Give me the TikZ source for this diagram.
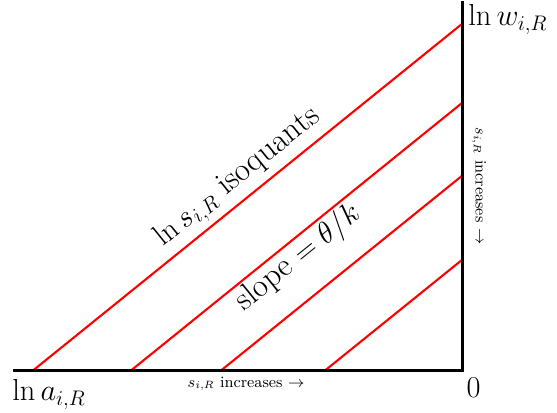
\documentclass[tikz,border=0pt]{standalone}
\definecolor{isored}{RGB}{255,0,0}
\tikzset{
  axis/.style={draw=black, line width=1.3pt},
  isoquant/.style={draw=isored, line width=1.2pt},
  biglabel/.style={font=\fontsize{18.5}{22}\selectfont, inner sep=0pt},
  hintlabel/.style={font=\small, inner sep=0pt},
  sidehint/.style={font=\small, inner sep=0pt, rotate=-90}
}

\begin{document}
\begin{tikzpicture}[x=0.02cm, y=0.02cm]
  \useasboundingbox (0,0) rectangle (557,412);

  % axes
  \coordinate (origin) at (462.5,41.5);
  \coordinate (xleft) at (12.5,41.5);
  \coordinate (ytop) at (462.5,411);

  % isoquant end points, slope theta/k
  \coordinate (isoAs) at (33,41.5);   \coordinate (isoAe) at (462.5,388.5);
  \coordinate (isoBs) at (131,41.5);  \coordinate (isoBe) at (462.5,309.4);
  \coordinate (isoCs) at (221,41.5);  \coordinate (isoCe) at (462.5,236.6);
  \coordinate (isoDs) at (325,41.5);  \coordinate (isoDe) at (462.5,152.5);

  \draw[isoquant] (isoAs) -- (isoAe);
  \draw[isoquant] (isoBs) -- (isoBe);
  \draw[isoquant] (isoCs) -- (isoCe);
  \draw[isoquant] (isoDs) -- (isoDe);

  \draw[axis] (xleft) -- (origin) -- (ytop);

  \node[biglabel, anchor=base west] (wlabel) at (468,386) {$\ln w_{i,R}$};
  \node[biglabel, anchor=base west] (alabel) at (12,11) {$\ln a_{i,R}$};
  \node[biglabel, anchor=base] (zero) at (473.5,15) {$0$};

  \node[biglabel, anchor=base, rotate=38.9] (isolabel) at (242,229)
    {$\ln s_{i,R}$ isoquants};
  \node[biglabel, anchor=base, rotate=38.9] (slopelabel) at (303,148)
    {slope $=\theta/k$};

  \node[hintlabel, anchor=base] (xhint) at (246,25)
    {$s_{i,R}$ increases $\rightarrow$};
  \node[sidehint] (yhint) at (479,226) {$s_{i,R}$ increases $\rightarrow$};
\end{tikzpicture}
\end{document}
